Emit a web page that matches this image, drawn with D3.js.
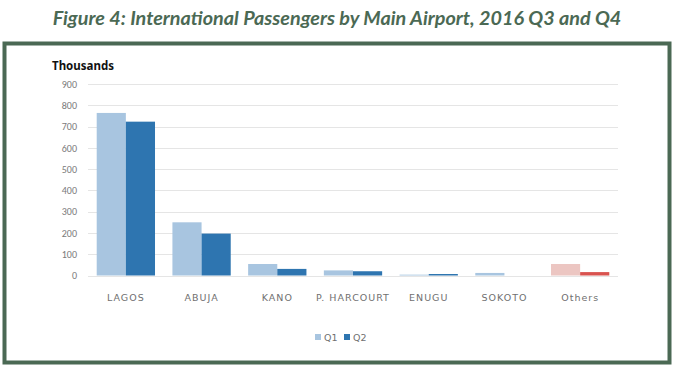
<!DOCTYPE html>
<html><head><meta charset="utf-8">
<script src="https://cdn.jsdelivr.net/npm/d3@7"></script>
<style>body{margin:0;background:#fff}svg{display:block}</style>
</head><body><svg id="c" width="674" height="368"></svg>
<script>
const categories = ["LAGOS","ABUJA","KANO","P. HARCOURT","ENUGU","SOKOTO","Others"];
const q1 = [764, 250, 54, 24, 4, 12, 54];
const q2 = [723, 197, 31, 20, 7, 0, 16];
const seriesNames = ["Q1","Q2"];
const yTicks = [0,100,200,300,400,500,600,700,800,900];

const svg = d3.select("#c");
const green = "#4b6954";
svg.append("text").attr("x",337).attr("y",25).attr("text-anchor","middle")
  .attr("font-family","Lato").attr("font-weight","bold").attr("font-style","italic")
  .attr("font-size",19.8).attr("fill",green)
  .text("Figure 4: International Passengers by Main Airport, 2016 Q3 and Q4");
svg.append("rect").attr("x",4.5).attr("y",43.5).attr("width",665).attr("height",319)
  .attr("fill","#fff").attr("stroke",green).attr("stroke-width",4);

const x = d3.scaleBand().domain(categories).range([88,618]).paddingInner(0.23).paddingOuter(0.115);
const xs = d3.scaleBand().domain(seriesNames).range([0,x.bandwidth()]);
const y = d3.scaleLinear().domain([0,900]).range([275.5,84]);

svg.append("g").selectAll("line").data(yTicks).join("line")
  .attr("x1",88).attr("x2",618).attr("y1",d=>Math.round(y(d))+0.5).attr("y2",d=>Math.round(y(d))+0.5)
  .attr("stroke","#e5e5e5").attr("stroke-width",1);

const yAxis = d3.axisLeft(y).tickValues(yTicks).tickSize(0).tickPadding(0);
const ga = svg.append("g").attr("transform","translate(77,0)").call(yAxis);
ga.select(".domain").remove();
ga.selectAll("text").attr("font-family","Calibri, Carlito, 'Liberation Sans', sans-serif").attr("font-size",10).attr("fill","#7a7a7a");

const colors = {
  normal: ["#a8c5e0","#2e75b0"],
  others: ["#ecc6c2","#d9534f"]
};
const data = categories.map((c,i)=>({c, v:[q1[i],q2[i]]}));
const g = svg.append("g");
data.forEach(d=>{
  seriesNames.forEach((s,j)=>{
    const v = d.v[j];
    if (v<=0) return;
    g.append("rect").attr("x",x(d.c)+xs(s)).attr("width",xs.bandwidth())
      .attr("y",y(v)).attr("height",y(0)-y(v))
      .attr("fill",(d.c==="Others"?colors.others:colors.normal)[j]);
  });
});

const xAxis = d3.axisBottom(x).tickSize(0).tickPadding(0);
const gx = svg.append("g").attr("transform","translate(0,301)").call(xAxis);
gx.select(".domain").remove();
gx.selectAll("text").attr("dy",0).attr("font-family","'DejaVu Sans', sans-serif").attr("font-size",9.5)
  .attr("fill","#707070").attr("letter-spacing",1);

svg.append("text").attr("x",52).attr("y",70).attr("font-family","'Noto Sans', sans-serif")
  .attr("font-weight","bold").attr("font-size",11.5).attr("fill","#111").text("Thousands");

const leg = svg.append("g");
const legX = [315,344];
seriesNames.forEach((s,j)=>{
  leg.append("rect").attr("x",legX[j]).attr("y",334).attr("width",6).attr("height",6).attr("fill",colors.normal[j]);
  leg.append("text").attr("x",legX[j]+9).attr("y",341).attr("font-family","'DejaVu Sans', sans-serif")
    .attr("font-size",9.5).attr("fill","#707070").text(s);
});
</script></body></html>
